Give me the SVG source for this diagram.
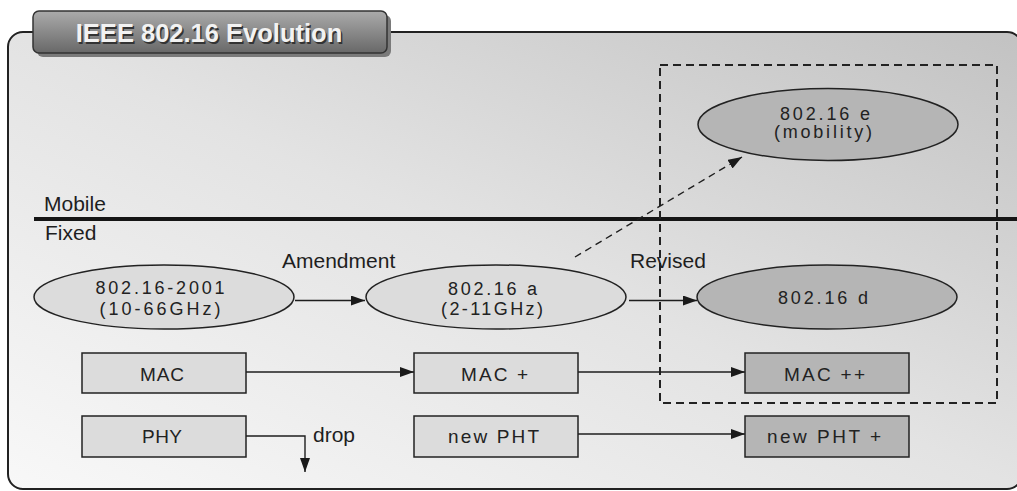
<svg xmlns="http://www.w3.org/2000/svg" width="1017" height="491" viewBox="0 0 1017 491">
<defs>
<linearGradient id="panelGrad" x1="0" y1="1" x2="1" y2="0">
<stop offset="0" stop-color="#f8f8f8"/>
<stop offset="0.5" stop-color="#e3e3e3"/>
<stop offset="1" stop-color="#c2c2c2"/>
</linearGradient>
<linearGradient id="tabGrad" x1="0" y1="0" x2="0" y2="1">
<stop offset="0" stop-color="#ababab"/>
<stop offset="1" stop-color="#686868"/>
</linearGradient>
<marker id="arr" markerUnits="userSpaceOnUse" markerWidth="15" markerHeight="11" refX="14" refY="5" orient="auto">
<path d="M0,0 L14,5 L0,10 z" fill="#1a1a1a"/>
</marker>
</defs>
<style>
.lbl{font-family:"Liberation Sans",Arial,sans-serif;font-size:21px;fill:#1e1e1e}
.nt{font-family:"Liberation Sans",Arial,sans-serif;font-size:18px;fill:#222;text-anchor:middle}
.bt{font-family:"Liberation Sans",Arial,sans-serif;font-size:19px;fill:#222;text-anchor:middle}
.light{fill:#dcdcdc;stroke:#222;stroke-width:1.5}
.dark{fill:#b5b5b5;stroke:#222;stroke-width:1.5}
.conn{stroke:#1e1e1e;stroke-width:1.4;fill:none}
</style>
<g id="panel">
<rect x="8" y="32" width="1014" height="457" rx="15" fill="url(#panelGrad)" stroke="#222" stroke-width="2"/>
</g>
<g id="title">
<rect x="37" y="15" width="354" height="42" rx="6" fill="#7a7a7a"/>
<rect x="33" y="11" width="354" height="42" rx="6" fill="url(#tabGrad)" stroke="#333" stroke-width="1.5"/>
<text x="210.5" y="43.5" text-anchor="middle" font-family="'Liberation Sans',Arial,sans-serif" font-weight="bold" font-size="25.5" fill="#333">IEEE 802.16 Evolution</text>
<text x="209" y="42" text-anchor="middle" font-family="'Liberation Sans',Arial,sans-serif" font-weight="bold" font-size="25.5" fill="#f2f2f2">IEEE 802.16 Evolution</text>
</g>
<g id="divider">
<line x1="34" y1="219" x2="1017" y2="219" stroke="#151515" stroke-width="4"/>
<text class="lbl" x="44" y="211">Mobile</text>
<text class="lbl" x="45" y="240">Fixed</text>
</g>
<g id="mobility-zone">
<rect x="660" y="65" width="337" height="338" fill="none" stroke="#222" stroke-width="2" stroke-dasharray="8,5"/>
</g>
<g id="connectors">
<line class="conn" x1="295" y1="300.5" x2="365" y2="300.5" marker-end="url(#arr)"/>
<line class="conn" x1="629" y1="300.5" x2="697" y2="300.5" marker-end="url(#arr)"/>
<line class="conn" x1="575" y1="257" x2="742" y2="157" stroke-dasharray="7,5" marker-end="url(#arr)"/>
<line class="conn" x1="246" y1="372" x2="414" y2="372" marker-end="url(#arr)"/>
<line class="conn" x1="578" y1="372" x2="745" y2="372" marker-end="url(#arr)"/>
<line class="conn" x1="578" y1="434" x2="745" y2="434" marker-end="url(#arr)"/>
<polyline class="conn" points="246,436 305,436 305,472" marker-end="url(#arr)"/>
<text class="lbl" x="282" y="268">Amendment</text>
<text class="lbl" x="630" y="268">Revised</text>
<text class="lbl" x="313" y="442">drop</text>
</g>
<g id="n-2001">
<ellipse class="light" cx="164" cy="297" rx="130" ry="32"/>
<text class="nt" x="160" y="294" textLength="129" lengthAdjust="spacing">802.16-2001</text>
<text class="nt" x="160" y="315" textLength="121" lengthAdjust="spacing">(10-66GHz)</text>
</g>
<g id="n-a">
<ellipse class="light" cx="496" cy="297" rx="130" ry="32"/>
<text class="nt" x="492.5" y="295" textLength="89" lengthAdjust="spacing">802.16 a</text>
<text class="nt" x="492" y="315" textLength="102" lengthAdjust="spacing">(2-11GHz)</text>
</g>
<g id="n-d">
<ellipse class="dark" cx="827" cy="297" rx="130" ry="32"/>
<text class="nt" x="823" y="304" font-size="19" textLength="90" lengthAdjust="spacing">802.16 d</text>
</g>
<g id="n-e">
<ellipse class="dark" cx="828" cy="124.5" rx="130" ry="36"/>
<text class="nt" x="825" y="120" font-size="17.5" textLength="90" lengthAdjust="spacing">802.16 e</text>
<text class="nt" x="823" y="138" font-size="17.5" textLength="98" lengthAdjust="spacing">(mobility)</text>
</g>
<g id="n-mac">
<rect class="light" x="82" y="353" width="164" height="40"/>
<text class="bt" x="162" y="380.5" textLength="44" lengthAdjust="spacing">MAC</text>
</g>
<g id="n-phy">
<rect class="light" x="82" y="416" width="164" height="41"/>
<text class="bt" x="162" y="443" textLength="40" lengthAdjust="spacing">PHY</text>
</g>
<g id="n-macp">
<rect class="light" x="414" y="353" width="164" height="40"/>
<text class="bt" x="494.5" y="380.5" textLength="67" lengthAdjust="spacing">MAC +</text>
</g>
<g id="n-newpht">
<rect class="light" x="414" y="416" width="164" height="41"/>
<text class="bt" x="493.5" y="443" textLength="91" lengthAdjust="spacing">new PHT</text>
</g>
<g id="n-macpp">
<rect class="dark" x="745" y="353" width="164" height="40"/>
<text class="bt" x="824.5" y="380.5" textLength="81" lengthAdjust="spacing">MAC ++</text>
</g>
<g id="n-newphtp">
<rect class="dark" x="745" y="416" width="164" height="41"/>
<text class="bt" x="824" y="442.5" textLength="114" lengthAdjust="spacing">new PHT +</text>
</g>
</svg>
